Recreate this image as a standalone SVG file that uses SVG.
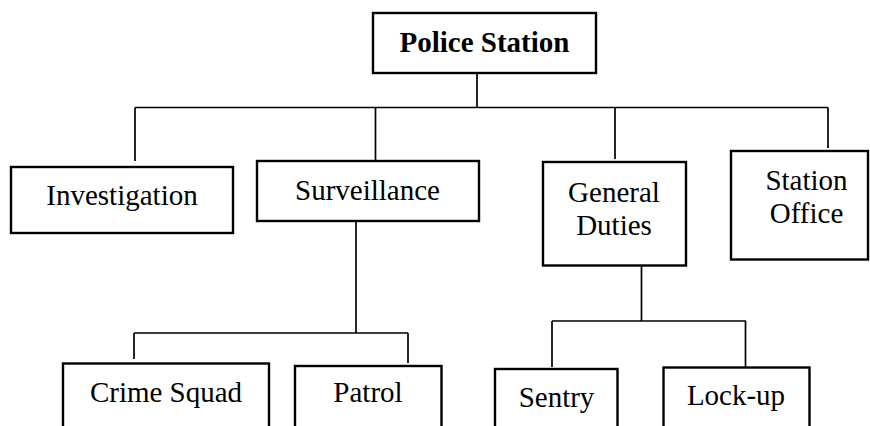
<svg xmlns="http://www.w3.org/2000/svg" width="870" height="426" viewBox="0 0 870 426">
<style>
.box{fill:#fff;stroke:#000;stroke-width:2.4}
.ln{fill:none;stroke:#000;stroke-width:1.7}
text{font-family:"Liberation Serif","Times New Roman",serif;font-size:29px;fill:#000;text-anchor:middle}
.b{font-weight:bold}
</style>
<rect width="870" height="426" fill="#fff"/>
<g id="connectors">
<path class="ln" d="M477,73 V107.5 M135,107.5 H828 M135,107.5 V161 M375.5,107.5 V161 M615,107.5 V159 M828,107.5 V148"/>
<path class="ln" d="M356,221 V333 M134,333 H408 M134,333 V359 M408,333 V363"/>
<path class="ln" d="M641.5,265 V321 M552,321 H746 M552,321 V367 M745.5,321 V367"/>
</g>
<g id="police-station"><rect class="box" x="373" y="13" width="223" height="60"/><text class="b" x="484.5" y="52">Police Station</text></g>
<g id="investigation"><rect class="box" x="11" y="167" width="222" height="66"/><text x="122" y="205">Investigation</text></g>
<g id="surveillance"><rect class="box" x="257" y="161" width="222" height="60"/><text x="367.5" y="200">Surveillance</text></g>
<g id="general-duties"><rect class="box" x="543" y="162" width="143" height="103.5"/><text x="614" y="201.5">General</text><text x="614" y="235">Duties</text></g>
<g id="station-office"><rect class="box" x="731" y="151" width="137" height="108.5"/><text x="806.5" y="190">Station</text><text x="806.5" y="223">Office</text></g>
<g id="crime-squad"><rect class="box" x="63" y="363.5" width="206" height="70"/><text x="166" y="401.5">Crime Squad</text></g>
<g id="patrol"><rect class="box" x="295" y="366" width="146.5" height="70"/><text x="368" y="401.5">Patrol</text></g>
<g id="sentry"><rect class="box" x="495" y="369" width="122.5" height="70"/><text x="556.5" y="406.5">Sentry</text></g>
<g id="lock-up"><rect class="box" x="663.5" y="367.5" width="146" height="70"/><text x="736" y="405">Lock-up</text></g>
</svg>
